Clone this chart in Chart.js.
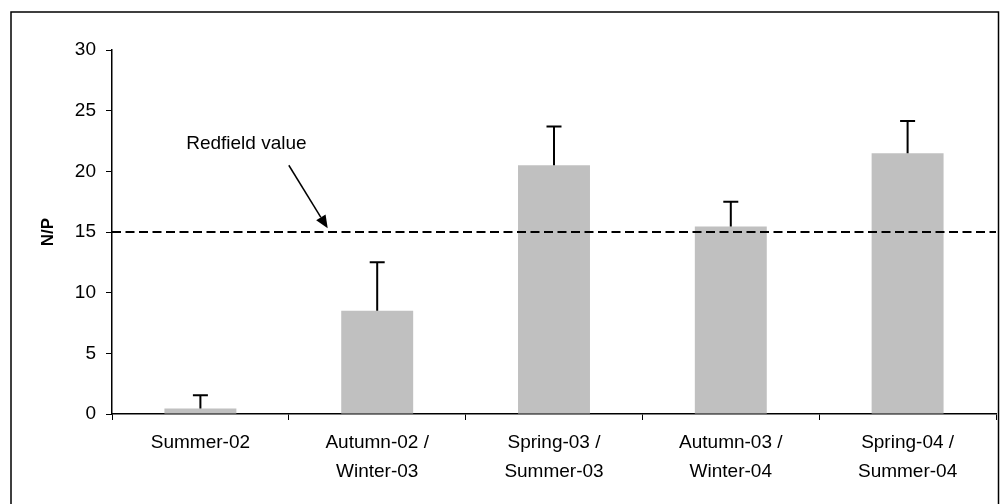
<!DOCTYPE html>
<html>
<head>
<meta charset="utf-8">
<script src="https://cdn.jsdelivr.net/npm/chart.js@4/dist/chart.umd.min.js"></script>
<style>
  html, body { margin: 0; padding: 0; background: #fff; }
  #wrap { width: 1000px; height: 504px; position: relative; }
</style>
</head>
<body>
<div id="wrap"><canvas id="c" width="1000" height="504"></canvas></div>
<script>
// ---- data ----
const categories = [
  'Summer-02',
  ['Autumn-02 /', 'Winter-03'],
  ['Spring-03 /', 'Summer-03'],
  ['Autumn-03 /', 'Winter-04'],
  ['Spring-04 /', 'Summer-04']
];
const npValues = [0.45, 8.5, 20.5, 15.45, 21.5];
const npErrors = [1.1, 4.0, 3.2, 2.05, 2.65];
const redfieldValue = 15;
const yTicks = [0, 5, 10, 15, 20, 25, 30];
// annotation anchor (in data units: category index, N/P)
const labelText = 'Redfield value';
const labelAnchor = [0.26, 22.25];
const arrowStart = [0.50, 20.5];
const arrowEnd = [0.72, 15.3];

const FONT = '"Liberation Sans", Arial, sans-serif';

const overlay = {
  id: 'overlay',
  afterDatasetsDraw(chart) {
    const ctx = chart.ctx;
    const xs = chart.scales.x, ys = chart.scales.y;
    const area = chart.chartArea;
    ctx.save();
    // error bars (upper only)
    const meta = chart.getDatasetMeta(0);
    ctx.strokeStyle = '#000';
    ctx.lineWidth = 2;
    meta.data.forEach((bar, i) => {
      const x = bar.x;
      const y0 = ys.getPixelForValue(npValues[i]);
      const y1 = ys.getPixelForValue(npValues[i] + npErrors[i]);
      ctx.beginPath();
      ctx.moveTo(x, y0);
      ctx.lineTo(x, y1);
      ctx.moveTo(x - 7.5, y1);
      ctx.lineTo(x + 7.5, y1);
      ctx.stroke();
    });
    // Redfield dashed line
    const yr = ys.getPixelForValue(redfieldValue);
    ctx.beginPath();
    ctx.setLineDash([9, 4.5]);
    ctx.lineWidth = 2;
    ctx.moveTo(area.left, yr);
    ctx.lineTo(area.right, yr);
    ctx.stroke();
    ctx.setLineDash([]);
    // arrow
    const ax0 = xs.getPixelForValue(arrowStart[0]), ay0 = ys.getPixelForValue(arrowStart[1]);
    const ax1 = xs.getPixelForValue(arrowEnd[0]), ay1 = ys.getPixelForValue(arrowEnd[1]);
    const ang = Math.atan2(ay1 - ay0, ax1 - ax0);
    const hl = 13, hw = 5.5;
    const bx = ax1 - hl * Math.cos(ang), by = ay1 - hl * Math.sin(ang);
    ctx.lineWidth = 1.5;
    ctx.beginPath();
    ctx.moveTo(ax0, ay0);
    ctx.lineTo(bx, by);
    ctx.stroke();
    ctx.fillStyle = '#000';
    ctx.beginPath();
    ctx.moveTo(ax1, ay1);
    ctx.lineTo(bx + hw * Math.sin(ang), by - hw * Math.cos(ang));
    ctx.lineTo(bx - hw * Math.sin(ang), by + hw * Math.cos(ang));
    ctx.closePath();
    ctx.fill();
    // label
    ctx.font = '19px ' + FONT;
    ctx.textAlign = 'center';
    ctx.textBaseline = 'middle';
    ctx.fillText(labelText, xs.getPixelForValue(labelAnchor[0]), ys.getPixelForValue(labelAnchor[1]));
    ctx.restore();
  },
  afterDraw(chart) {
    const ctx = chart.ctx;
    ctx.save();
    ctx.strokeStyle = '#000';
    ctx.lineWidth = 1.5;
    ctx.strokeRect(11, 12, 987.5, 500);
    ctx.restore();
  }
};

new Chart(document.getElementById('c'), {
  type: 'bar',
  data: {
    labels: categories,
    datasets: [{
      data: npValues,
      backgroundColor: '#C0C0C0',
      borderWidth: 0,
      categoryPercentage: 1.0,
      barPercentage: 0.407
    }]
  },
  options: {
    responsive: false,
    animation: false,
    devicePixelRatio: 1,
    layout: { padding: { top: 50, right: 4, left: 0, bottom: 0 } },
    plugins: { legend: { display: false }, tooltip: { enabled: false } },
    scales: {
      x: {
        offset: true,
        grid: { offset: true, drawOnChartArea: false, drawTicks: true, tickLength: 6, color: '#000', tickColor: '#000', lineWidth: 1 },
        border: { color: '#000', width: 1.5 },
        ticks: { color: '#000', font: { family: FONT, size: 19, lineHeight: 1.52 }, padding: 8, maxRotation: 0, autoSkip: false },
        afterFit(scale) { scale.height = 90; }
      },
      y: {
        min: 0, max: 30,
        afterBuildTicks(scale) { scale.ticks = yTicks.map(v => ({ value: v })); },
        grid: { drawOnChartArea: false, drawTicks: true, tickLength: 6, color: '#000', tickColor: '#000', lineWidth: 1 },
        border: { color: '#000', width: 1.5 },
        ticks: { color: '#000', font: { family: FONT, size: 19 }, padding: 10 },
        title: { display: true, text: 'N/P', color: '#000', font: { family: FONT, size: 17, weight: 'bold' }, padding: { top: 38, bottom: 0 } },
        afterFit(scale) { scale.width = 112; }
      }
    }
  },
  plugins: [overlay]
});
</script>
</body>
</html>
